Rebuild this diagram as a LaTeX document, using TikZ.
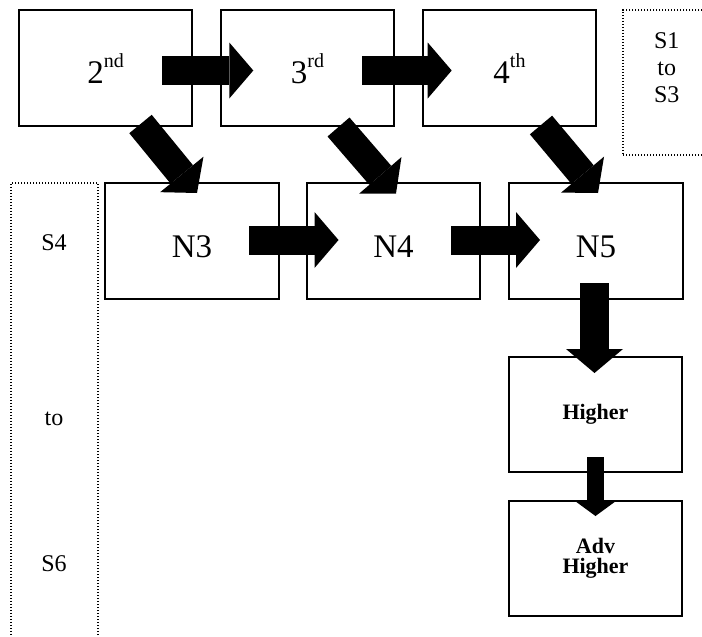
\documentclass[tikz,border=0pt]{standalone}
\usepackage{fontspec}
\setmainfont{Liberation Serif}
\usetikzlibrary{arrows.meta,calc}
\begin{document}
\begin{tikzpicture}[x=1pt,y=-1pt,
  box/.style={draw,line width=1.2pt,minimum width=173pt,minimum height=116pt,inner sep=0pt,outer sep=0pt},
  dotbox/.style={draw,line width=1.3pt,dash pattern=on 1.3pt off 1.7pt,inner sep=0pt,outer sep=0pt,anchor=north west},
  big/.style={font=\fontsize{33}{40}\selectfont},
  mid/.style={font=\fontsize{24}{27}\selectfont},
  bold/.style={font=\fontsize{22}{20}\selectfont\bfseries},
  blockarrow/.style={line width=29pt,-{Triangle[length=24pt,width=56pt,line width=0pt]}},
  smallarrow/.style={line width=17pt,-{Triangle[length=15pt,width=41pt,line width=0pt]}}]
\clip (0,0) rectangle (702,637);
\fill[white] (0,0) rectangle (702,637);
% dotted frames
\node[dotbox,minimum width=90pt,minimum height=145pt] (s13) at (623,10) {};
\node[dotbox,minimum width=87pt,minimum height=470pt] (s46) at (11,183) {};
\node[mid,align=center] (s13t) at (666.7,67.5) {S1\\to\\S3};
\node[mid,anchor=base] (s4) at (54,250) {S4};
\node[mid,anchor=base] (sto) at (54,425) {to};
\node[mid,anchor=base] (s6) at (54,571) {S6};
% boxes
\node[box,big,text height=30.6pt,text depth=0pt] (n2) at (105.5,68) {2\raisebox{16pt}{\fontsize{20}{20}\selectfont nd}};
\node[box,big,text height=30.6pt,text depth=0pt] (n3rd) at (307.5,68) {3\raisebox{16pt}{\fontsize{20}{20}\selectfont rd}};
\node[box,big,text height=30.6pt,text depth=0pt] (n4th) at (509.5,68) {4\raisebox{16pt}{\fontsize{20}{20}\selectfont th}};
\node[box,big,minimum width=174pt,text height=32pt,text depth=0pt] (N3) at (192,241) {N3};
\node[box,big,minimum width=173pt,text height=32pt,text depth=0pt] (N4) at (393.5,241) {N4};
\node[box,big,minimum width=174pt,text height=32pt,text depth=0pt] (N5) at (596,241) {N5};
\node[box,bold,minimum height=115pt] (H) at (595.5,414.5) {Higher};
\node[box,bold,minimum height=115pt,align=center] (AH) at (595.5,558.5) {Adv\\Higher};
% arrows
\draw[blockarrow] ($(n2)+(56.5,2.5)$) -- ($(n3rd)+(-54.2,2.5)$);
\draw[blockarrow] ($(n3rd)+(54.5,2.5)$) -- ($(n4th)+(-57.8,2.5)$);
\draw[blockarrow] ($(N3)+(57,-1)$) -- ($(N4)+(-55,-1)$);
\draw[blockarrow] ($(N4)+(57.5,-1)$) -- ($(N5)+(-56,-1)$);
\draw[blockarrow] ($(n2)+(35,56)$) -- ($(N3)+(5,-48)$);
\draw[blockarrow] ($(n3rd)+(31,59)$) -- ($(N4)+(2.5,-47.5)$);
\draw[blockarrow] ($(n4th)+(31.5,57)$) -- ($(N5)+(2,-48)$);
\draw[blockarrow,-{Triangle[length=24pt,width=57pt,line width=0pt]}] ($(N5)+(-1.5,42)$) -- ($(H)+(-1,-41.5)$);
\draw[smallarrow] ($(H)+(0,42.5)$) -- ($(AH)+(0,-42.5)$);
\end{tikzpicture}
\end{document}
